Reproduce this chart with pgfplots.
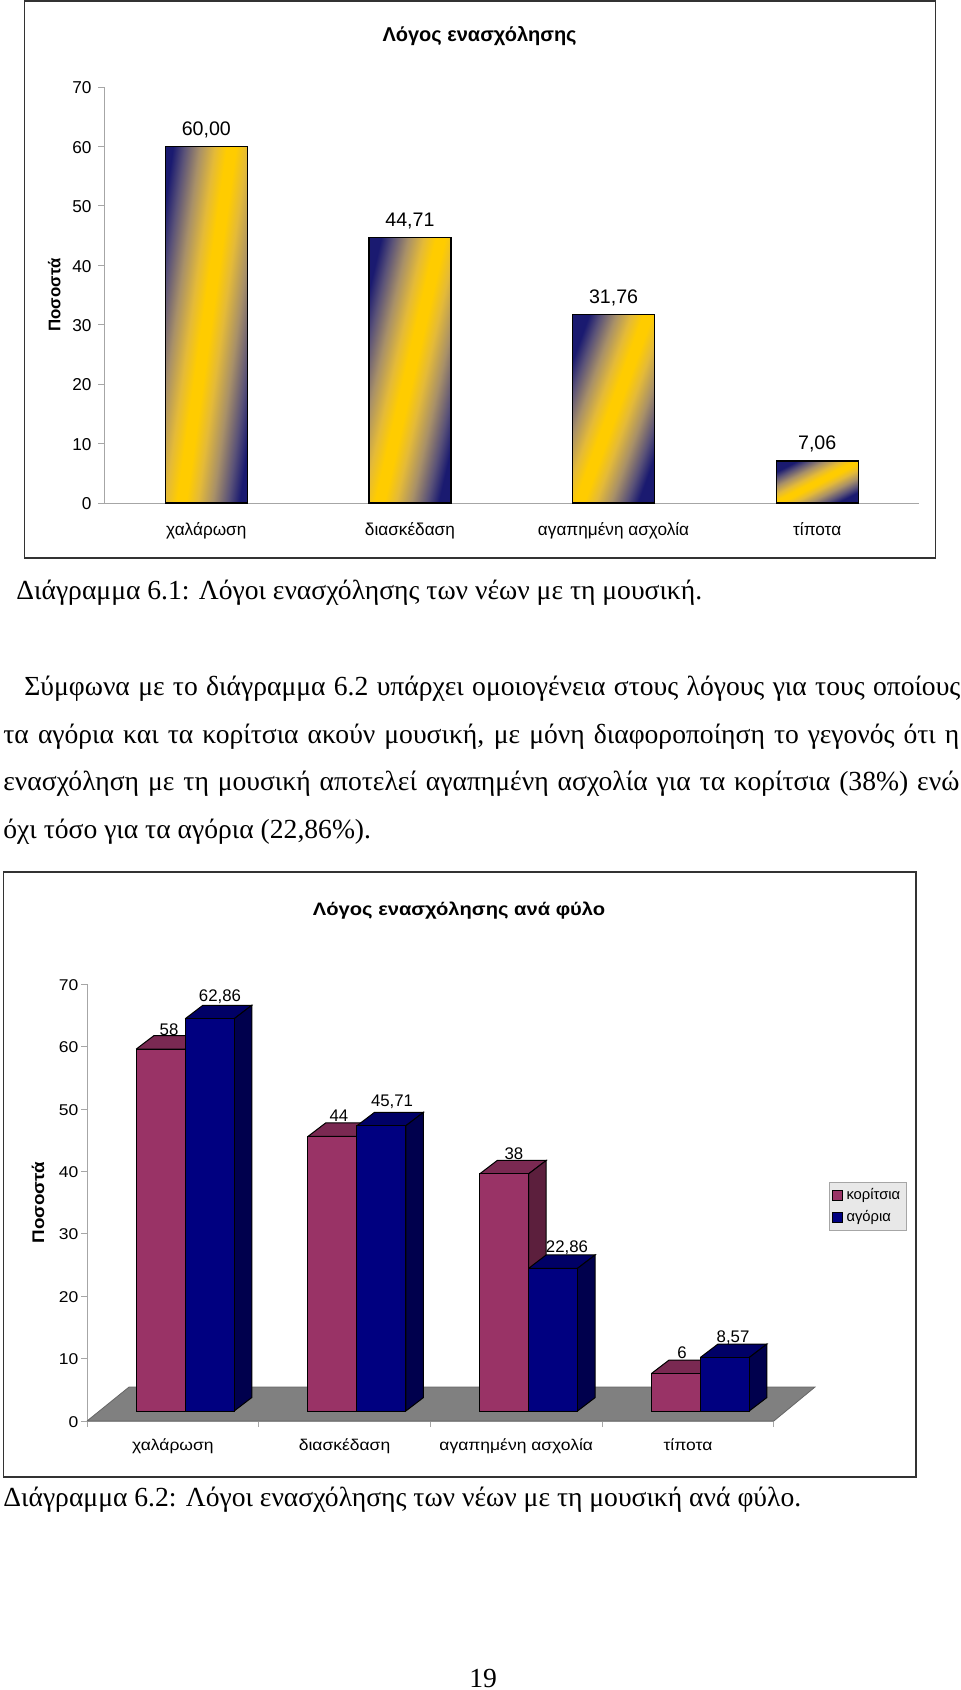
\documentclass[border=0pt]{standalone}
\usepackage{fontspec}
\setmainfont{Liberation Serif}
\newfontfamily\chartfont{Liberation Sans}
\newfontfamily\chartwide[FakeStretch=1.12]{Liberation Sans}
\usepackage{pgfplots}
\pgfplotsset{compat=1.18}
\definecolor{grad1}{HTML}{1A1A70}
\definecolor{gradb}{HTML}{5A5278}
\definecolor{gradc}{HTML}{A89068}
\definecolor{gradd}{HTML}{E4BA38}
\definecolor{grad2}{HTML}{FFCC00}
\definecolor{plum}{HTML}{993366}
\definecolor{plumtop}{HTML}{7A2952}
\definecolor{plumside}{HTML}{5C1F3D}
\definecolor{navybar}{HTML}{000080}
\definecolor{navytop}{HTML}{000066}
\definecolor{navyside}{HTML}{00004D}
\pgfdeclareverticalshading{navygold}{100bp}{color(0bp)=(grad1); color(25bp)=(grad1); color(30bp)=(gradb); color(36.5bp)=(gradc); color(43bp)=(gradd); color(48bp)=(grad2); color(52bp)=(grad2); color(57bp)=(gradd); color(63.5bp)=(gradc); color(70bp)=(gradb); color(75bp)=(grad1); color(100bp)=(grad1)}

\pgfplotsset{
  pagechart/.style={
    scale only axis, anchor=south west, clip=false,
    axis lines=left, axis line style={-,gray!70,line width=0.5pt},
    major tick style={gray!70,line width=0.5pt}, tick align=outside, major tick length=3pt,
    /pgf/number format/assume math mode=true,
    every axis title shift=0pt,
    ymin=0, ymax=70, ytick={0,10,...,70},
  },
  gradbar/.style={ybar,bar width=41pt,bar shift=0pt,draw=black,line width=0.6pt,shade,shading=navygold,shading angle=#1},
}

\begin{document}
\begin{tikzpicture}[x=0.5pt,y=-0.5pt]
\path[use as bounding box] (0,0) rectangle (960,1690);

% frames
\draw[line width=0.8pt,black!80] (24.5,1) rectangle (935.5,558);
\draw[line width=0.8pt,black!80] (3.5,872) rectangle (916,1477);

% chart 6.1
\begin{axis}[pagechart,
  at={(52.25pt,-251.5pt)}, width=407.25pt, height=208pt,
  xmin=-0.5, xmax=3.5,
  xtick={0,1,2,3},
  xticklabels={χαλάρωση,διασκέδαση,αγαπημένη ασχολία,τίποτα},
  x tick style={draw=none},
  extra x ticks={-0.5,0.5,1.5,2.5,3.5},
  extra x tick labels={},
  extra x tick style={major tick length=3pt,tick style={gray!70,line width=0.5pt}},
  ticklabel style={font=\chartfont\fontsize{8.6}{10}\selectfont},
  yticklabel style={xshift=0pt,yshift=-0.4pt},
  xticklabel style={yshift=-3pt},
  title={\textbf{Λόγος ενασχόλησης}},
  title style={font=\chartfont\fontsize{10}{12}\selectfont,at={(axis description cs:0.4605,1.1235)},anchor=center},
  ylabel={\textbf{Ποσοστά}},
  ylabel style={font=\chartfont\fontsize{8.4}{10}\selectfont,at={(axis description cs:-0.0617,0.5)},anchor=center},
  point meta=y,
  nodes near coords={\pgfmathprintnumber[fixed,fixed zerofill,precision=2,use comma,assume math mode=true]{\pgfplotspointmeta}},
  every node near coord/.append style={font=\chartfont\fontsize{9.8}{11}\selectfont,yshift=0.7pt},
]
\addplot[gradbar=82] coordinates {(0,60.00)};
\addplot[gradbar=77] coordinates {(1,44.71)};
\addplot[gradbar=70] coordinates {(2,31.76)};
\addplot[gradbar=27] coordinates {(3,7.06)};
\end{axis}

% chart 6.2: visible axes and floor
\begin{axis}[pagechart,
  at={(43.5pt,-710.5pt)}, width=343.4pt, height=218.4pt,
  xmin=0, xmax=4,
  xtick={0,1,2,3,4}, xticklabels={},
  extra x ticks={0.5,1.5,2.5,3.5},
  extra x tick labels={χαλάρωση,διασκέδαση,αγαπημένη ασχολία,τίποτα},
  extra x tick style={major tick length=0pt},
  ticklabel style={font=\chartwide\fontsize{7.8}{10}\selectfont},
  yticklabel style={xshift=2.2pt,yshift=-0.4pt},
  xticklabel style={yshift=-5.5pt},
  title={\textbf{Λόγος ενασχόλησης ανά φύλο}},
  title style={font=\chartwide\fontsize{9}{11}\selectfont,at={(axis description cs:0.5417,1.1687)},anchor=center},
  ylabel={\textbf{Ποσοστά}},
  ylabel style={font=\chartwide\fontsize{8.4}{10}\selectfont,at={(axis description cs:-0.0714,0.5)},anchor=center},
]
\addplot[fill=gray,draw=black!60,line width=0.4pt] coordinates {
  (0,0) (4,0) (4.24,5.45) (0.245,5.45) (0,0)
};
\end{axis}

% chart 6.2: bars, base raised by the floor depth
\begin{axis}[
  at={(43.5pt,-710.5pt)}, width=343.4pt, height=218.4pt, anchor=south west,
  scale only axis, hide axis, clip=false,
  xmin=-0.0716, xmax=3.9284, ymin=-1.6, ymax=68.4,
  legend style={at={(rel axis cs:1.0804,0.548)},anchor=north west,
    fill=black!9,draw=black!35,line width=0.5pt,inner sep=1pt,row sep=0pt,
    font=\chartfont\fontsize{7.4}{8.5}\selectfont},
  legend cell align=left,
  legend image code/.code={\draw[#1,line width=0.5pt] (0pt,-2.5pt) rectangle (5pt,2.5pt);},
]
% tops and sides
\addplot[forget plot,fill=plumtop,draw=black,line width=0.5pt] coordinates {(0.215,58)(0.5,58)(0.603,60.16)(0.318,60.16)(0.215,58)};
\addplot[forget plot,fill=plumside,draw=black,line width=0.5pt] coordinates {(0.5,0)(0.603,2.16)(0.603,60.16)(0.5,58)(0.5,0)};
\addplot[forget plot,fill=navytop,draw=black,line width=0.5pt] coordinates {(0.5,62.86)(0.785,62.86)(0.888,65.02)(0.603,65.02)(0.5,62.86)};
\addplot[forget plot,fill=navyside,draw=black,line width=0.5pt] coordinates {(0.785,0)(0.888,2.16)(0.888,65.02)(0.785,62.86)(0.785,0)};

\addplot[forget plot,fill=plumtop,draw=black,line width=0.5pt] coordinates {(1.215,44)(1.5,44)(1.603,46.16)(1.318,46.16)(1.215,44)};
\addplot[forget plot,fill=plumside,draw=black,line width=0.5pt] coordinates {(1.5,0)(1.603,2.16)(1.603,46.16)(1.5,44)(1.5,0)};
\addplot[forget plot,fill=navytop,draw=black,line width=0.5pt] coordinates {(1.5,45.71)(1.785,45.71)(1.888,47.87)(1.603,47.87)(1.5,45.71)};
\addplot[forget plot,fill=navyside,draw=black,line width=0.5pt] coordinates {(1.785,0)(1.888,2.16)(1.888,47.87)(1.785,45.71)(1.785,0)};

\addplot[forget plot,fill=plumtop,draw=black,line width=0.5pt] coordinates {(2.215,38)(2.5,38)(2.603,40.16)(2.318,40.16)(2.215,38)};
\addplot[forget plot,fill=plumside,draw=black,line width=0.5pt] coordinates {(2.5,0)(2.603,2.16)(2.603,40.16)(2.5,38)(2.5,0)};
\addplot[forget plot,fill=navytop,draw=black,line width=0.5pt] coordinates {(2.5,22.86)(2.785,22.86)(2.888,25.02)(2.603,25.02)(2.5,22.86)};
\addplot[forget plot,fill=navyside,draw=black,line width=0.5pt] coordinates {(2.785,0)(2.888,2.16)(2.888,25.02)(2.785,22.86)(2.785,0)};

\addplot[forget plot,fill=plumtop,draw=black,line width=0.5pt] coordinates {(3.215,6)(3.5,6)(3.603,8.16)(3.318,8.16)(3.215,6)};
\addplot[forget plot,fill=plumside,draw=black,line width=0.5pt] coordinates {(3.5,0)(3.603,2.16)(3.603,8.16)(3.5,6)(3.5,0)};
\addplot[forget plot,fill=navytop,draw=black,line width=0.5pt] coordinates {(3.5,8.57)(3.785,8.57)(3.888,10.73)(3.603,10.73)(3.5,8.57)};
\addplot[forget plot,fill=navyside,draw=black,line width=0.5pt] coordinates {(3.785,0)(3.888,2.16)(3.888,10.73)(3.785,8.57)(3.785,0)};

% front faces
\addplot[ybar,bar width=24.5pt,bar shift=-12.25pt,fill=plum,draw=black,line width=0.5pt] coordinates {
  (0.5,58) (1.5,44) (2.5,38) (3.5,6)
};
\addlegendentry{κορίτσια}
\addplot[ybar,bar width=24.5pt,bar shift=12.25pt,fill=navybar,draw=black,line width=0.5pt] coordinates {
  (0.5,62.86) (1.5,45.71) (2.5,22.86) (3.5,8.57)
};
\addlegendentry{αγόρια}

\begin{scope}[every node/.style={font=\chartfont\fontsize{8.4}{10}\selectfont,inner sep=0pt}]
\node at (axis cs:0.406,61.1) {58};
\node at (axis cs:0.703,66.37) {62,86};
\node at (axis cs:1.396,47.4) {44};
\node at (axis cs:1.705,49.5) {45,71};
\node at (axis cs:2.415,41.3) {38};
\node at (axis cs:2.724,26.1) {22,86};
\node at (axis cs:3.394,9.3) {6};
\node at (axis cs:3.691,11.8) {8,57};
\end{scope}
\end{axis}

% running text of the page
\begin{scope}[every node/.style={anchor=base west,inner sep=0pt,font=\fontsize{13.8}{16}\selectfont}]
\node at (16,599) {Διάγραμμα 6.1: Λόγοι ενασχόλησης των νέων με τη μουσική.};
\node at (24,695) {\makebox[468pt][s]{Σύμφωνα με το διάγραμμα 6.2 υπάρχει ομοιογένεια στους λόγους για τους οποίους}};
\node at (3,743) {\makebox[478pt][s]{τα αγόρια και τα κορίτσια ακούν μουσική, με μόνη διαφοροποίηση το γεγονός ότι η}};
\node at (3,790) {\makebox[478pt][s]{ενασχόληση με τη μουσική αποτελεί αγαπημένη ασχολία για τα κορίτσια (38\%) ενώ}};
\node at (3,838) {όχι τόσο για τα αγόρια (22,86\%).};
\node at (3,1506) {Διάγραμμα 6.2: Λόγοι ενασχόλησης των νέων με τη μουσική ανά φύλο.};
\node at (469,1687) {19};
\end{scope}
\end{tikzpicture}
\end{document}
